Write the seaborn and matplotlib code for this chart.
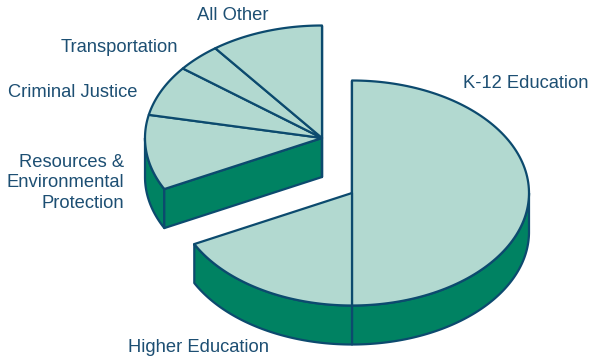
import numpy as np
import matplotlib
matplotlib.use("Agg")
import matplotlib.pyplot as plt
from matplotlib.patches import Polygon
import seaborn as sns

# Budget shares (percent), listed clockwise from 12 o'clock
categories = ["K-12 Education", "Higher Education",
              "Resources &\nEnvironmental\nProtection",
              "Criminal Justice", "Transportation", "All Other"]
shares = [50.0, 17.5, 10.8, 7.3, 4.1, 10.3]
# which exploded wedge each category belongs to
wedge_group = [0, 0, 1, 1, 1, 1]

sns.set_theme(style="white")
plt.rcParams["font.family"] = ["Liberation Sans", "DejaVu Sans"]

TOP = "#b2d9d0"
SIDE = "#008262"
EDGE = "#0c4a6e"
TEXT = "#1d4f73"

# layout of the 3-D disc (pixel-like canvas units, y grows downward)
RX, RY, DEPTH = 177, 112.5, 39
group_centers = {0: (352, 193), 1: (322, 138)}

fig = plt.figure(figsize=(5.92, 3.58), dpi=100)
ax = fig.add_axes([0, 0, 1, 1])
ax.set_xlim(0, 592)
ax.set_ylim(358, 0)
ax.axis("off")

bounds = np.concatenate([[0], np.cumsum(shares)]) / 100 * 2 * np.pi


def rim(c, a, b, dz=0, n=120):
    t = np.linspace(a, b, n)
    return np.column_stack([c[0] + RX * np.sin(t), c[1] - RY * np.cos(t) + dz])


LW = 1.6
for g in (1, 0):
    c = group_centers[g]
    idx = [i for i, gg in enumerate(wedge_group) if gg == g]
    a0, b0 = bounds[idx[0]], bounds[idx[-1] + 1]

    # outer side walls (front half of the disc only)
    for i in idx:
        a, b = max(bounds[i], np.pi / 2), min(bounds[i + 1], 1.5 * np.pi)
        if b <= a:
            continue
        top = rim(c, a, b)
        bot = rim(c, a, b, DEPTH)[::-1]
        ax.add_patch(Polygon(np.vstack([top, bot]), closed=True, fc=SIDE,
                             ec=EDGE, lw=LW, joinstyle="round"))

    # cut faces of the exploded wedge that face the viewer
    for ang, sgn in ((a0, -1), (b0, 1)):
        if sgn * np.sin(ang) > -1e-6:
            p = rim(c, ang, ang, n=1)[0]
            face = [c, p, (p[0], p[1] + DEPTH), (c[0], c[1] + DEPTH)]
            ax.add_patch(Polygon(face, closed=True, fc=SIDE, ec=EDGE,
                                 lw=LW, joinstyle="round"))

    # top surface sectors
    for i in idx:
        arc = rim(c, bounds[i], bounds[i + 1])
        ax.add_patch(Polygon(np.vstack([[c], arc]), closed=True, fc=TOP,
                             ec=EDGE, lw=LW, joinstyle="round"))

# category labels (x, baseline of last line, alignment)
label_pos = {
    "K-12 Education": (463, 88, "left"),
    "Higher Education": (128, 352, "left"),
    "Resources &\nEnvironmental\nProtection": (124, 208, "right"),
    "Criminal Justice": (137, 97, "right"),
    "Transportation": (178, 52, "right"),
    "All Other": (233, 20, "center"),
}
for name in categories:
    x, y, ha = label_pos[name]
    ax.text(x, y, name, ha=ha, va="baseline", fontsize=13.2, color=TEXT,
            linespacing=1.28, multialignment="right")

fig.savefig("out.png", dpi=100)
